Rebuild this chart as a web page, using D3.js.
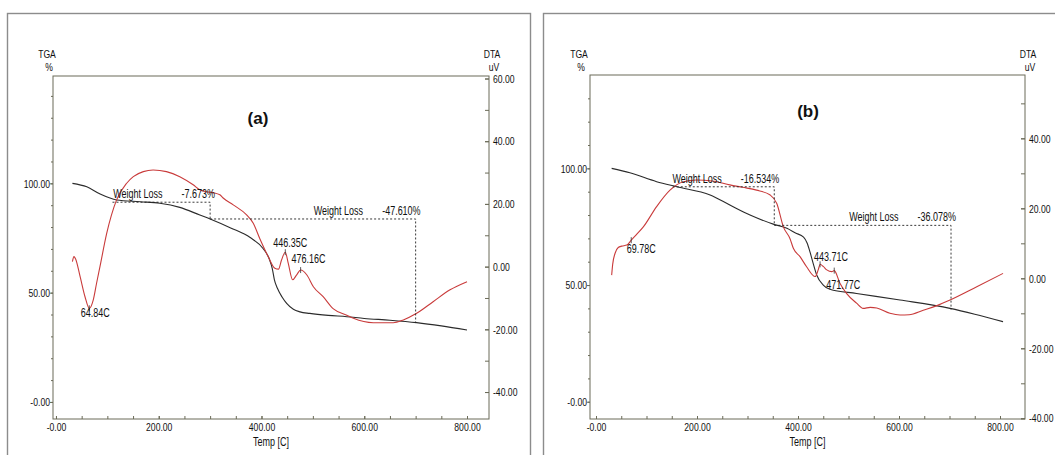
<!DOCTYPE html>
<html><head><meta charset="utf-8">
<script src="https://cdn.jsdelivr.net/npm/d3@7"></script>
<style>
body{margin:0;background:#fff}
svg{display:block}
text{font-family:"Liberation Sans",Arial,sans-serif;fill:#111}
</style></head><body>
<svg id="chart" width="1055" height="455"></svg>
<script>
// Sample (a): TGA weight (%) and DTA signal (uV) vs temperature (C)
const tgaA = [[32,100],[60,98.4],[86,95.1],[118,92.4],[164,91.6],[202,90.9],[241,89],[280,85.5],[300,83.7],[340,79.6],[378,75.2],[403,70.2],[415,65.5],[421,61],[425,56],[431,52],[440,48],[449,45.1],[462,42.4],[475,41.2],[494,40.5],[530,39.6],[566,39],[600,38.2],[650,37.4],[702,36.3],[750,34.8],[800,32.9]];
const dtaA = [[32,1.6],[35,3.2],[38,2.5],[47,-3.2],[56.5,-9.6],[64.84,-13.3],[72.6,-10.6],[79,-5.3],[85.6,0],[98.7,10.6],[118,21.3],[137.6,26.6],[150.5,28.7],[170,30.3],[189,30.8],[215,30.3],[241,28.7],[267,26.1],[280,24.5],[292,23.9],[306,23.6],[319,22.9],[326,21.8],[345,19.7],[371,16.5],[384,13.8],[397,8.8],[413,3.2],[426,-0.5],[433,-0.8],[439,2.1],[446.35,4.6],[452,1.1],[460.6,-4.2],[468.5,-2.6],[476.16,-1.1],[488,-2.6],[501,-6.4],[520,-9.6],[540,-13.5],[566,-15.5],[579,-16.5],[617.6,-17.9],[656.5,-17.9],[676,-17],[702,-14.9],[734,-11.2],[767,-7.4],[800,-4.8]];

// Sample (b)
const tgaB = [[31,100],[67,98.1],[120,94.3],[160,92.1],[226,88.6],[265,84.3],[305,80],[351,76.1],[378,74.3],[395,72.3],[411,70.5],[418,68],[424,64],[430,59.3],[437,54.3],[450,50],[463,48.2],[516,46.4],[602,43.6],[701,40],[750,37.5],[806,34.3]];
const dtaB = [[31,0.9],[33,4],[37.6,7.1],[44,8.8],[51,9.2],[61,9.5],[69.78,10.9],[80,12.5],[93.7,14.7],[120,20.5],[146.5,25.2],[173,27.6],[199,28.1],[230,27.8],[265,26.7],[290,26],[318,25.2],[345,23.8],[358,21.4],[371,14.7],[384,11.4],[391,8.5],[404,6.2],[417,3.3],[434,0.5],[440,2.4],[443.71,4],[450,3.4],[457,2.4],[467,1.9],[471.77,2.2],[483,-1.4],[496,-4.3],[516,-7.1],[529,-8.6],[543,-8.3],[556,-8.5],[582,-10],[602,-10.5],[620,-10.4],[648,-9.1],[675,-7.8],[701,-6.2],[754,-2.4],[806,1.4]];

// Annotated DTA peaks (temperature, label)
const peaksA = [[64.84,"64.84C"],[446.35,"446.35C"],[476.16,"476.16C"]];
const peaksB = [[69.78,"69.78C"],[443.71,"443.71C"],[471.77,"471.77C"]];

// Weight-loss steps: [from T, to T, upper TGA level, loss %]
const lossA = [[110,300,91.37,-7.673],[300,700,83.7,-47.610]];
const lossB = [[152,353,92.1,-16.534],[353,703,75.57,-36.078]];

// Axis ticks and their printed labels
const tempTicks = [0,200,400,600,800];
const tempTickLabels = ["-0.00","200.00","400.00","600.00","800.00"];
const tgaTicks = [0,50,100];
const tgaTickLabels = ["-0.00","50.00","100.00"];
const dtaTicksA = [60,40,20,0,-20,-40];
const dtaTickLabelsA = ["60.00","40.00","20.00","0.00","-20.00","-40.00"];
const dtaTicksB = [40,20,0,-20,-40];
const dtaTickLabelsB = ["40.00","20.00","0.00","-20.00","-40.00"];

const svg = d3.select("#chart");
const AXIS = "#6b6b58", FRAME = "#8c8c8c";
const NARROW = 0.75;   // condensed lettering, squeezed about each text's anchor

const panels = [
  {title:"(a)", tga:tgaA, dta:dtaA, peaks:peaksA, loss:lossA,
   dtaTicks:dtaTicksA, dtaLabels:dtaTickLabelsA,
   frame:{x:7.5,y:13.5,w:523,h:520},
   plot:{x0:53,x1:489,y0:76,y1:419},
   xDom:[-5.8,842.8], tgaDom:[-7.8,149.1], dtaDom:[-48.6,60.8],
   titleX:258, titleY:124, tgaLabelX:47, dtaLabelX:492,
   peakOff:[[-8.5,8.5],[-12,-5],[-9,-7]]},
  {title:"(b)", tga:tgaB, dta:dtaB, peaks:peaksB, loss:lossB,
   dtaTicks:dtaTicksB, dtaLabels:dtaTickLabelsB,
   frame:{x:543.5,y:13.5,w:600,h:520},
   plot:{x0:590,x1:1025,y0:75,y1:419},
   xDom:[-11.9,849.5], tgaDom:[-7.4,140], dtaDom:[-40.2,58.1],
   titleX:808, titleY:117, tgaLabelX:579, dtaLabelX:1028,
   peakOff:[[-4.5,13],[-6,-3],[-8,18]]}
];

panels.forEach(p => {
  const P = p.plot;
  const g = svg.append("g");
  g.append("rect").attr("x",p.frame.x).attr("y",p.frame.y)
    .attr("width",p.frame.w).attr("height",p.frame.h)
    .attr("fill","none").attr("stroke",FRAME).attr("stroke-width",1.4);

  const x = d3.scaleLinear().domain(p.xDom).range([P.x0,P.x1]);
  const yT = d3.scaleLinear().domain(p.tgaDom).range([P.y1,P.y0]);
  const yD = d3.scaleLinear().domain(p.dtaDom).range([P.y1,P.y0]);

  // plot frame
  g.append("rect").attr("x",P.x0).attr("y",P.y0)
    .attr("width",P.x1-P.x0).attr("height",P.y1-P.y0)
    .attr("fill","none").attr("stroke",AXIS).attr("stroke-width",1);

  const styleAxis = sel => {
    sel.select(".domain").remove();
    sel.selectAll("line").attr("stroke",AXIS);
    sel.selectAll("text").attr("font-size","11.5px").attr("fill","#111")
      .attr("font-family",'"Liberation Sans",Arial,sans-serif');
  };

  // bottom axis: major + minor ticks point inward
  const xMinor = d3.range(0, p.xDom[1], 50);
  g.append("g").attr("transform",`translate(0,${P.y1})`)
    .call(d3.axisBottom(x).tickValues(xMinor).tickFormat("").tickSizeInner(-3).tickSizeOuter(0))
    .call(styleAxis);
  g.append("g").attr("transform",`translate(0,${P.y1})`)
    .call(d3.axisBottom(x).tickValues(tempTicks).tickFormat((d,i)=>tempTickLabels[i])
      .tickSizeInner(-3).tickSizeOuter(0).tickPadding(3.5))
    .call(styleAxis);

  // left TGA axis
  const tMinor = d3.range(0, p.tgaDom[1], 10);
  g.append("g").attr("transform",`translate(${P.x0},0)`)
    .call(d3.axisLeft(yT).tickValues(tMinor).tickFormat("").tickSizeInner(2).tickSizeOuter(0))
    .call(styleAxis);
  g.append("g").attr("transform",`translate(${P.x0},0)`)
    .call(d3.axisLeft(yT).tickValues(tgaTicks).tickFormat((d,i)=>tgaTickLabels[i])
      .tickSizeInner(3).tickSizeOuter(0).tickPadding(0))
    .call(styleAxis);

  // right DTA axis
  const dMinor = d3.range(-40, p.dtaDom[1], 10);
  g.append("g").attr("transform",`translate(${P.x1},0)`)
    .call(d3.axisRight(yD).tickValues(dMinor).tickFormat("").tickSizeInner(-4).tickSizeOuter(0))
    .call(styleAxis);
  g.append("g").attr("transform",`translate(${P.x1},0)`)
    .call(d3.axisRight(yD).tickValues(p.dtaTicks).tickFormat((d,i)=>p.dtaLabels[i])
      .tickSizeInner(-4).tickSizeOuter(0).tickPadding(4))
    .call(styleAxis);

  // axis titles
  const lbl = (tx,ty,s,anchor="middle",size=11.5) => g.append("text").attr("class","nar")
    .attr("x",tx).attr("y",ty).attr("text-anchor",anchor).attr("font-size",size+"px").text(s);
  lbl(p.tgaLabelX,58,"TGA"); lbl(p.tgaLabelX+2,71,"%");
  lbl(p.dtaLabelX,58,"DTA"); lbl(p.dtaLabelX+2,71,"uV");
  lbl((P.x0+P.x1)/2,446,"Temp  [C]","middle",12);
  g.append("text").attr("x",p.titleX).attr("y",p.titleY).attr("text-anchor","middle")
    .attr("font-size","17px").attr("font-weight","bold").text(p.title);

  // curves
  const lineT = d3.line().x(d=>x(d[0])).y(d=>yT(d[1])).curve(d3.curveMonotoneX);
  const lineD = d3.line().x(d=>x(d[0])).y(d=>yD(d[1])).curve(d3.curveMonotoneX);
  g.append("path").datum(p.tga).attr("d",lineT).attr("fill","none")
    .attr("stroke","#2b2b2b").attr("stroke-width",1.1);
  g.append("path").datum(p.dta).attr("d",lineD).attr("fill","none")
    .attr("stroke","#c93b3b").attr("stroke-width",1.1);

  // weight-loss brackets
  p.loss.forEach(([t0,t1,top,loss]) => {
    const bot = top + loss;
    g.append("path")
      .attr("d",`M${x(t0)},${yT(top)}H${x(t1)}V${yT(bot)}`)
      .attr("fill","none").attr("stroke","#222").attr("stroke-width",0.9)
      .attr("stroke-dasharray","2,2");
    const val = g.append("text").attr("class","nar").attr("x",x(t1)+5).attr("y",yT(top)-4)
      .attr("text-anchor","end").attr("font-size","12px").text(loss.toFixed(3)+"%");
    const w = val.node().getComputedTextLength() * NARROW;
    g.append("text").attr("class","nar").attr("x",x(t1)+5-w-19).attr("y",yT(top)-4)
      .attr("text-anchor","end").attr("font-size","12px").text("Weight Loss");
  });

  // peak annotations
  p.peaks.forEach(([t,label],i) => {
    const v = p.dta.find(d=>d[0]===t)[1];
    const px = x(t), py = yD(v);
    const [dx,dy] = p.peakOff[i];
    g.append("line").attr("x1",px).attr("x2",px).attr("y1",py-3).attr("y2",py+3)
      .attr("stroke","#333").attr("stroke-width",0.8);
    g.append("text").attr("class","nar").attr("x",px+dx).attr("y",py+dy)
      .attr("font-size","12px").text(label);
  });

  // condense axis tick labels too
  g.selectAll(".tick text").classed("nar",true);
});

// squeeze each condensed text horizontally while keeping its anchor point fixed
svg.selectAll("text.nar").each(function(){
  const t = d3.select(this);
  const ax = +t.attr("x") || 0;
  t.attr("transform",`translate(${ax*(1-NARROW)},0) scale(${NARROW},1)`);
});
</script>
</body></html>
